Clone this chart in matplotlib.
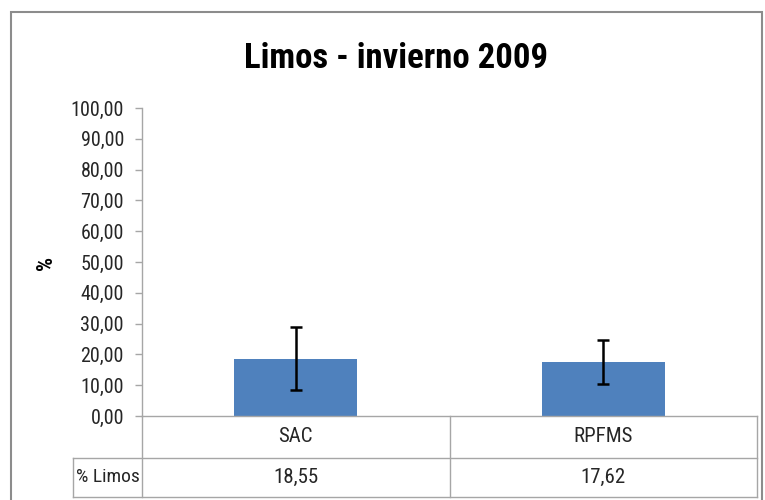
import matplotlib
matplotlib.use('Agg')
import matplotlib.pyplot as plt
from matplotlib.patches import Rectangle
from matplotlib.lines import Line2D

plt.rcParams['font.family'] = ['Roboto Condensed', 'Liberation Sans Narrow', 'Lato', 'DejaVu Sans']

### Data
categories = ['SAC', 'RPFMS']
limos = [18.55, 17.62]
limos_err = [10.2, 7.1]
row_label = '% Limos'
yticks = [0, 10, 20, 30, 40, 50, 60, 70, 80, 90, 100]

title = 'Limos - invierno 2009'

# colors
bar_color = '#4F81BD'
grid_gray = '#A6A6A6'
text_gray = '#262626'

W, H = 765, 500
fig = plt.figure(figsize=(W / 100, H / 100), dpi=100)

# helper: pixel -> figure fraction
def fx(px):
    return px / W

def fy(py):
    return 1 - py / H

# outer chart frame
fig.patches.append(Rectangle((fx(11), fy(520)), fx(762) - fx(11), fy(12) - fy(520),
                             transform=fig.transFigure, fill=False,
                             edgecolor='#8C8C8C', linewidth=1.5))

ax_left, ax_right, ax_top, ax_bot = 142, 757, 108, 416
ax = fig.add_axes([fx(ax_left), fy(ax_bot), fx(ax_right) - fx(ax_left), fy(ax_top) - fy(ax_bot)])

x = list(range(len(categories)))
ax.bar(x, limos, width=0.4, color=bar_color, zorder=2)
ax.errorbar(x, limos, yerr=limos_err, fmt='none', ecolor='black',
            elinewidth=1.8, capsize=4, capthick=1.8, zorder=3)

ax.set_xlim(-0.5, len(categories) - 0.5)
ax.set_ylim(0, 100)
ax.set_yticks(yticks)
ax.set_yticklabels([f'{v:.2f}'.replace('.', ',') for v in yticks], fontsize=14.5, color=text_gray)
ax.set_xticks([])
ax.tick_params(axis='y', length=5, color=grid_gray, width=1, pad=8)
for side in ['top', 'right']:
    ax.spines[side].set_visible(False)
ax.spines['left'].set_color(grid_gray)
ax.spines['bottom'].set_color(grid_gray)
ax.spines['left'].set_linewidth(1)
ax.spines['bottom'].set_linewidth(1)

fig.text(fx(396), fy(58), title, ha='center', va='center', fontsize=25, fontweight='bold')
fig.text(fx(46), fy(263), '%', ha='center', va='center', fontsize=16, fontweight='bold', rotation=90)

# data table under the axis
row1_bot, row2_bot = 458, 497
table_left = 73
mid = ax_left + (ax_right - ax_left) / 2

def hline(x0, x1, y):
    fig.lines.append(Line2D([fx(x0), fx(x1)], [fy(y), fy(y)], transform=fig.transFigure,
                            color=grid_gray, linewidth=1))

def vline(x, y0, y1):
    fig.lines.append(Line2D([fx(x), fx(x)], [fy(y0), fy(y1)], transform=fig.transFigure,
                            color=grid_gray, linewidth=1))

hline(table_left, ax_right, row1_bot)
hline(table_left, ax_right, row2_bot)
vline(ax_left, ax_bot, row2_bot)
vline(mid, ax_bot, row2_bot)
vline(ax_right, ax_bot, row2_bot)
vline(table_left, row1_bot, row2_bot)

cell_w = (ax_right - ax_left) / len(categories)
for i, (cat, val) in enumerate(zip(categories, limos)):
    cx = ax_left + cell_w * (i + 0.5)
    fig.text(fx(cx), fy((ax_bot + row1_bot) / 2), cat, ha='center', va='center',
             fontsize=15, color=text_gray)
    fig.text(fx(cx), fy((row1_bot + row2_bot) / 2), f'{val:.2f}'.replace('.', ','),
             ha='center', va='center', fontsize=15, color=text_gray)
fig.text(fx((table_left + ax_left) / 2), fy((row1_bot + row2_bot) / 2), row_label,
         ha='center', va='center', fontsize=14, color=text_gray)

fig.savefig('out.png', dpi=100)
